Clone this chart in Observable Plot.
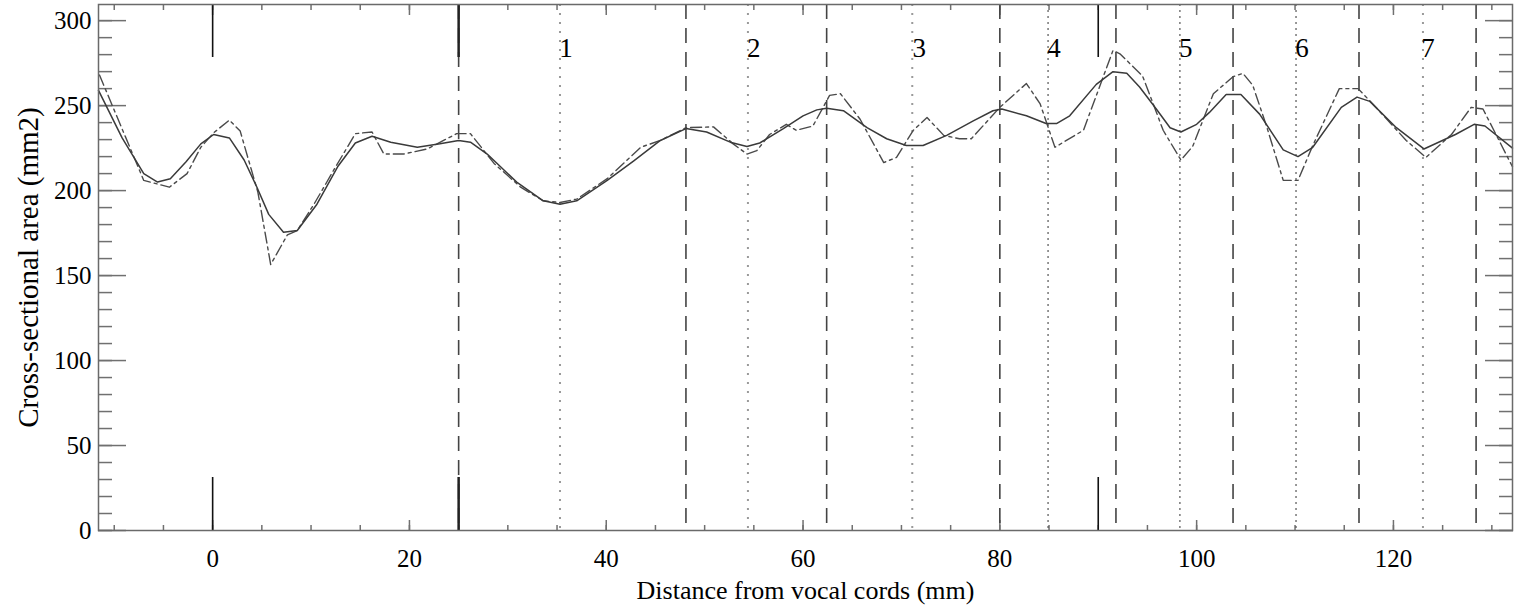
<!DOCTYPE html>
<html>
<head>
<meta charset="utf-8">
<script src="https://cdn.jsdelivr.net/npm/d3@7"></script>
<script src="https://cdn.jsdelivr.net/npm/@observablehq/plot@0.6"></script>
<style>
  html, body { margin: 0; padding: 0; background: #fff; }
  #chart svg { display: block; }
</style>
</head>
<body>
<div id="chart"></div>
<script>
// Smooth (solid) cross-section curve: distance (mm) and area (mm2)
const smoothX = [-11.6, -9.2, -7.0, -5.6, -4.3, -2.7, -1.2, 0.1, 1.7, 3.2, 4.5, 5.7, 7.2, 8.6, 10.6, 12.7, 14.5, 16.2, 18.1, 20.8, 23.1, 25.0, 26.2, 27.9, 30.9, 33.6, 35.3, 37.0, 40.1, 42.8, 45.5, 48.1, 50.2, 52.6, 54.3, 55.6, 58.0, 60.0, 61.4, 62.4, 64.1, 66.5, 68.5, 70.5, 72.2, 74.6, 77.3, 79.3, 80.2, 82.7, 84.7, 85.8, 87.1, 89.8, 91.5, 92.9, 94.2, 95.9, 97.3, 98.4, 100.0, 101.3, 103.0, 104.5, 106.4, 108.8, 110.3, 111.8, 114.7, 116.3, 117.6, 120.3, 123.1, 126.3, 128.2, 129.3, 132.1];
const smoothY = [259, 231, 210, 205, 207, 217, 227.5, 233, 231, 218, 202, 186, 175.5, 176.5, 192, 214, 228, 232, 228.5, 225.5, 227.5, 229.5, 228.5, 221.5, 205, 194, 192, 194, 206, 217.5, 229.5, 236.5, 234.5, 228.5, 226, 228, 236.5, 244, 247.5, 248.5, 247, 237, 230.5, 226.5, 226.5, 232.5, 241, 247, 248, 244, 239.5, 239.5, 244, 262.5, 270, 269, 261, 248, 237, 234.5, 239, 246, 256.5, 256.5, 245, 224, 220, 225.5, 249, 255, 252.5, 237, 224.5, 233, 239, 238, 225];

// Coarse (dash-dot) cross-section curve
const coarseX = [-11.5, -7.0, -4.4, -2.6, -1.2, 0.1, 1.7, 2.8, 4.6, 5.9, 7.6, 8.6, 10.3, 12.3, 14.5, 16.2, 17.4, 19.4, 21.8, 24.8, 26.2, 28.6, 31.3, 33.6, 35.3, 37.0, 40.1, 43.5, 45.5, 48.1, 50.9, 52.9, 54.3, 55.3, 56.6, 58.3, 59.3, 61.0, 62.7, 63.8, 65.8, 68.2, 69.5, 71.2, 72.6, 74.3, 75.9, 77.1, 80.0, 82.7, 84.1, 85.6, 88.5, 91.5, 92.2, 94.5, 96.6, 98.4, 99.6, 101.7, 103.7, 104.7, 105.7, 107.1, 108.8, 110.3, 111.8, 114.5, 116.4, 117.9, 121.3, 123.3, 125.9, 127.9, 129.1, 132.1];
const coarseY = [268, 206, 202, 210, 225.5, 234, 241.5, 235, 199, 156.5, 174, 176.5, 192, 212, 233.5, 234.5, 221.5, 221.5, 224.5, 233.5, 233.5, 216, 202, 194, 193, 195, 207, 225.5, 229.5, 237, 237.5, 227.5, 221.5, 223.5, 233, 239, 235.5, 238, 256, 257, 242, 216.5, 219.5, 235.5, 243, 232.5, 230.5, 230.5, 249, 263, 251, 225.5, 235.5, 282.5, 280.5, 267.5, 235.5, 218, 226, 257, 267, 269, 262, 238, 206, 206, 226.5, 260, 260, 251, 229.5, 219.5, 233, 249, 248, 214];

// Section boundaries (dashed), section centres (dotted) and their labels
const boundaries = [25, 48.1, 62.4, 80.0, 91.8, 103.7, 116.5, 128.4];
const centersLight = [35.3, 54.4, 71.1, 123.0];
const centersDark = [84.9, 98.3, 110.1];
const labelX = [35.9, 55.0, 71.8, 85.5, 98.9, 110.7, 123.5];
const sectionLabels = ["1", "2", "3", "4", "5", "6", "7"];
// Reference markers (solid short lines at top and bottom)
const markers = [0, 90];
const boldMarkers = [25];

// Axis ticks
const yMajor = [0, 50, 100, 150, 200, 250, 300];
const yMinor = d3.range(0, 310, 10);
const xMajor = [0, 20, 40, 60, 80, 100, 120];
const xMinor = d3.range(-10, 133, 5);

const xTitle = "Distance from vocal cords (mm)";
const yTitle = "Cross-sectional area (mm2)";

const smooth = smoothX.map((x, i) => ({x, y: smoothY[i]}));
const coarse = coarseX.map((x, i) => ({x, y: coarseY[i]}));
const labels = labelX.map((x, i) => ({x, t: sectionLabels[i]}));

const tickColor = "#707070";
const serif = "'Liberation Serif', 'Times New Roman', Times, serif";

const chart = Plot.plot({
  width: 1515,
  height: 605,
  marginLeft: 98,
  marginRight: 3,
  marginTop: 4,
  marginBottom: 75,
  style: {fontFamily: serif, fontSize: "25px", background: "white", color: "black", overflow: "visible"},
  x: {domain: [-11.6, 132.1]},
  y: {domain: [0, 309.5]},
  marks: [
    // tick marks pointing inward on all four sides
    Plot.axisY(yMinor, {anchor: "left", tickSize: -14, fill: "none", stroke: tickColor, strokeWidth: 1.5, label: null}),
    Plot.axisY(yMajor, {anchor: "left", tickSize: -28, fill: "none", stroke: tickColor, strokeWidth: 1.5, label: null}),
    Plot.axisY(yMinor, {anchor: "right", tickSize: -14, fill: "none", stroke: tickColor, strokeWidth: 1.5, label: null}),
    Plot.axisY(yMajor, {anchor: "right", tickSize: -28, fill: "none", stroke: tickColor, strokeWidth: 1.5, label: null}),
    Plot.axisX(xMinor, {anchor: "bottom", tickSize: -5, fill: "none", stroke: tickColor, strokeWidth: 1.5, label: null}),
    Plot.axisX(xMajor, {anchor: "bottom", tickSize: -10, fill: "none", stroke: tickColor, strokeWidth: 1.5, label: null}),
    Plot.axisX(xMinor, {anchor: "top", tickSize: -5, fill: "none", stroke: tickColor, strokeWidth: 1.5, label: null}),
    Plot.axisX(xMajor, {anchor: "top", tickSize: -10, fill: "none", stroke: tickColor, strokeWidth: 1.5, label: null}),
    // tick labels
    Plot.axisY(yMajor, {anchor: "left", tickSize: 0, tickPadding: 7, label: null, fontSize: 25}),
    Plot.axisX(xMajor, {anchor: "bottom", tickSize: 0, tickPadding: 19, label: null, fontSize: 25}),
    // section centres (dotted)
    Plot.ruleX(centersLight, {stroke: "#9a9a9a", strokeWidth: 2, strokeDasharray: "2,7"}),
    Plot.ruleX(centersDark, {stroke: "#555", strokeWidth: 1.2, strokeDasharray: "2,4"}),
    // section boundaries (dashed)
    Plot.ruleX(boundaries, {stroke: "#444", strokeWidth: 1.6, strokeDasharray: "15,9"}),
    // reference markers
    Plot.ruleX(markers, {stroke: "#111", strokeWidth: 1.6, insetBottom: 473}),
    Plot.ruleX(markers, {stroke: "#111", strokeWidth: 1.6, insetTop: 473}),
    Plot.ruleX(boldMarkers, {stroke: "#222", strokeWidth: 2.5, insetBottom: 473}),
    Plot.ruleX(boldMarkers, {stroke: "#222", strokeWidth: 2.5, insetTop: 473}),
    // curves
    Plot.line(coarse, {x: "x", y: "y", stroke: "#4a4a4a", strokeWidth: 1.4, strokeDasharray: "11,4,3,4"}),
    Plot.line(smooth, {x: "x", y: "y", stroke: "#3a3a3a", strokeWidth: 1.5}),
    // section numbers
    Plot.text(labels, {x: "x", text: "t", frameAnchor: "top", lineAnchor: "middle", dy: 44, fontSize: 27, fill: "black"}),
    // titles
    Plot.text([xTitle], {frameAnchor: "bottom", lineAnchor: "middle", textAnchor: "middle", dy: 60, fontSize: 26, fill: "black"}),
    Plot.text([yTitle], {frameAnchor: "left", lineAnchor: "middle", textAnchor: "middle", dx: -70, rotate: -90, fontSize: 29, fill: "black"}),
    Plot.frame({stroke: "#6a6a6a", strokeWidth: 1.5})
  ]
});

document.getElementById("chart").appendChild(chart);
</script>
</body>
</html>
